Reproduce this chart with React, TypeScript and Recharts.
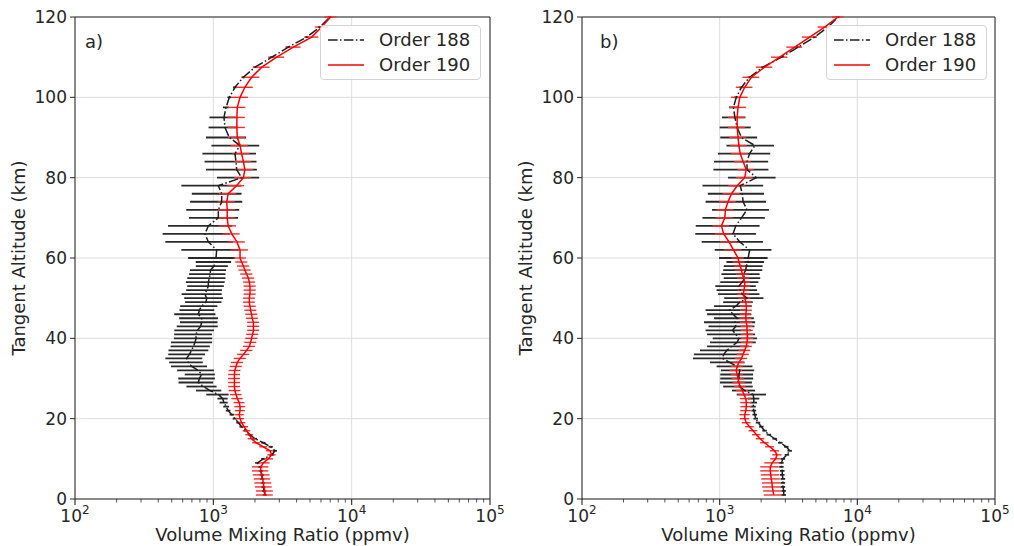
import React from 'react';
import {
  ScatterChart,
  Scatter,
  XAxis,
  YAxis,
  CartesianGrid,
  ErrorBar,
  ReferenceArea,
  Legend,
} from 'recharts';

const FONT = '"DejaVu Sans", Verdana, sans-serif';
const INK = '#262626';

// tangent altitudes (km)
const altitude = [
  1, 2, 3, 4, 5, 6, 7, 8, 9, 10,
  11, 12, 13, 14, 15, 16, 17, 18, 19, 20,
  21, 22, 23, 24, 25, 26, 27, 28, 29, 30,
  31, 32, 33, 34, 35, 36, 37, 38, 39, 40,
  41, 42, 43, 44, 45, 46, 47, 48, 49, 50,
  51, 52, 53, 54, 55, 56, 57, 58, 59, 60,
  62, 64, 66, 68, 70, 72, 74, 76, 78, 80, 82, 84, 86, 88, 90,
  92.5, 95, 97.5, 100, 102.5, 105, 107.5, 110, 112.5, 115, 117.5, 120,
];

// panel a) - Order 188 (ppmv)
const a188 = [
  2360, 2330, 2300, 2280, 2260, 2240, 2210, 2180, 2080, 2300,
  2650, 2790, 2600, 2300, 2000, 1840, 1720, 1600, 1520, 1430,
  1360, 1280, 1240, 1190, 1170, 1090, 946, 847, 779, 792,
  823, 779, 697, 659, 641, 671, 697, 717, 737, 750,
  750, 766, 810, 823, 823, 779, 792, 823, 885, 895,
  870, 895, 920, 920, 936, 946, 956, 1010, 1045, 1045,
  1057, 920, 870, 920, 1087, 1087, 1149, 1149, 1087, 1603, 1475, 1458, 1434, 1558, 1305,
  1214, 1194, 1235, 1305, 1434, 1648, 2000, 2643, 3485, 4730, 5900, 6970,
];
const a188Err = [
  80, 80, 80, 80, 80, 80, 80, 75, 75, 80,
  90, 95, 90, 80, 70, 65, 60, 55, 55, 50,
  50, 50, 60, 80, 100, 200, 196, 208, 219, 234,
  202, 231, 203, 180, 191, 199, 223, 226, 243, 231,
  229, 244, 266, 249, 257, 257, 223, 247, 260, 279,
  280, 259, 272, 287, 288, 278, 279, 263, 299, 388,
  470, 470, 440, 450, 420, 450, 470, 450, 500, 540, 589, 594, 600, 589, 420,
  290, 257, 60, 40, 45, 50, 60, 80, 100, 140, 180, 200,
];

// panel a) - Order 190 (ppmv)
const a190 = [
  2360, 2360, 2320, 2300, 2270, 2240, 2200, 2200, 2300, 2500,
  2640, 2570, 2300, 2040, 1890, 1820, 1740, 1670, 1600, 1560,
  1540, 1560, 1560, 1540, 1490, 1460, 1430, 1420, 1420, 1420,
  1420, 1430, 1460, 1490, 1560, 1650, 1740, 1820, 1860, 1890,
  1920, 1950, 1950, 1950, 1910, 1890, 1860, 1840, 1820, 1820,
  1840, 1840, 1840, 1820, 1790, 1740, 1690, 1650, 1600, 1560,
  1560, 1480, 1360, 1280, 1260, 1260, 1250, 1280, 1470, 1650, 1690, 1650, 1600, 1560, 1490,
  1480, 1480, 1490, 1560, 1690, 1890, 2240, 2870, 3790, 5140, 6070, 7050,
];
const a190Err = [
  330, 330, 320, 320, 310, 310, 300, 300, 250, 200,
  180, 170, 150, 130, 120, 115, 110, 110, 105, 105,
  120, 130, 140, 140, 140, 140, 140, 140, 140, 140,
  140, 140, 145, 150, 155, 165, 175, 180, 185, 190,
  190, 195, 195, 195, 190, 190, 185, 185, 180, 180,
  185, 185, 185, 180, 180, 175, 170, 165, 160, 160,
  220, 210, 190, 180, 180, 180, 175, 180, 200, 230, 240, 230, 225, 220, 210,
  210, 210, 215, 220, 240, 260, 310, 380, 480, 600, 650, 700,
];

// panel b) - Order 188 (ppmv)
const b188 = [
  2920, 2920, 2880, 2880, 2880, 2850, 2850, 2810, 2810, 2880,
  3080, 3230, 3050, 2760, 2510, 2280, 2120, 2010, 1900, 1830,
  1800, 1770, 1750, 1770, 1770, 1750, 1520, 1400, 1360, 1380,
  1380, 1400, 1340, 1180, 1050, 1070, 1130, 1220, 1340, 1380,
  1310, 1240, 1310, 1290, 1340, 1250, 1180, 1310, 1400, 1580,
  1460, 1410, 1380, 1460, 1520, 1490, 1550, 1560, 1610, 1610,
  1650, 1400, 1250, 1310, 1440, 1580, 1480, 1460, 1410, 1850, 1580, 1580, 1650, 1800, 1440,
  1340, 1290, 1260, 1320, 1440, 1650, 2060, 2810, 3710, 4900, 6120, 7240,
];
const b188Err = [
  110, 110, 110, 110, 110, 110, 110, 105, 105, 110,
  115, 120, 115, 105, 95, 85, 80, 75, 70, 70,
  70, 70, 80, 100, 170, 420, 290, 340, 355, 370,
  370, 380, 390, 330, 410, 420, 410, 410, 490, 490,
  500, 450, 480, 520, 430, 440, 390, 400, 340, 500,
  485, 460, 450, 450, 450, 460, 490, 490, 490, 620,
  730, 660, 585, 640, 690, 700, 690, 640, 660, 700, 680, 670, 680, 680, 430,
  340, 250, 90, 50, 50, 55, 65, 85, 110, 150, 180, 200,
];

// panel b) - Order 190 (ppmv)
const b190 = [
  2470, 2440, 2410, 2400, 2370, 2350, 2330, 2330, 2410, 2550,
  2610, 2510, 2310, 2120, 1970, 1850, 1750, 1650, 1560, 1520,
  1520, 1550, 1560, 1560, 1550, 1500, 1460, 1410, 1380, 1360,
  1340, 1320, 1340, 1380, 1440, 1480, 1520, 1560, 1580, 1590,
  1590, 1580, 1580, 1560, 1550, 1550, 1560, 1560, 1550, 1520,
  1490, 1500, 1520, 1520, 1490, 1460, 1440, 1410, 1380, 1360,
  1260, 1170, 1070, 1030, 1090, 1100, 1150, 1220, 1340, 1520, 1560, 1480, 1410, 1380, 1360,
  1340, 1340, 1360, 1400, 1520, 1700, 2120, 2730, 3510, 4510, 5790, 7240,
];
const b190Err = [
  380, 375, 370, 370, 365, 360, 360, 360, 300, 220,
  200, 190, 170, 150, 140, 130, 125, 120, 115, 120,
  130, 140, 145, 150, 150, 150, 145, 140, 140, 135,
  135, 135, 135, 140, 145, 150, 150, 155, 155, 160,
  160, 160, 160, 155, 155, 155, 155, 155, 155, 150,
  150, 150, 150, 150, 150, 145, 145, 140, 140, 140,
  180, 165, 150, 145, 155, 155, 160, 170, 185, 210, 215, 205, 195, 190, 190,
  190, 190, 190, 195, 210, 235, 290, 370, 460, 560, 650, 700,
];

const xMajor = [100, 1000, 10000, 100000];
const xMinor = [
  200, 300, 400, 500, 600, 700, 800, 900,
  2000, 3000, 4000, 5000, 6000, 7000, 8000, 9000,
  20000, 30000, 40000, 50000, 60000, 70000, 80000, 90000,
];
const yTicks = [0, 20, 40, 60, 80, 100, 120];

const seriesNames = ['Order 188', 'Order 190'];
const BLACK = '#1e1e1e';
const RED = '#ff0000';
const DASHDOT = '9.6 2.4 1.5 2.4';

const toPoints = (vals: number[], errs: number[]) =>
  altitude.map((alt, i) => ({ x: vals[i], y: alt, err: errs[i] }));

const XTick = (props: any) => {
  const { x, y, payload } = props;
  const v = payload.value;
  const major = xMajor.includes(v);
  return (
    <g>
      <line x1={x} x2={x} y1={y} y2={y + (major ? 6 : 3.5)} stroke={INK} strokeWidth={major ? 1.1 : 0.8} />
      {major && (
        <text x={x} y={y + 23} textAnchor="middle" fontSize={17} fill={INK} fontFamily={FONT}>
          10<tspan dy={-8} fontSize={12}>{Math.round(Math.log10(v))}</tspan>
        </text>
      )}
    </g>
  );
};

const XLabel = (p: any) => {
  const vb = p.viewBox || { x: 75, y: 499, width: 415, height: 47 };
  return (
    <text x={vb.x + vb.width / 2} y={vb.y + 42} textAnchor="middle" fontSize={18} fill={INK} fontFamily={FONT}>
      Volume Mixing Ratio (ppmv)
    </text>
  );
};

const YLabel = (p: any) => {
  const vb = p.viewBox || { x: 0, y: 17, width: 75, height: 482 };
  const cx = vb.x + 18;
  const cy = vb.y + vb.height / 2;
  return (
    <text
      transform={`translate(${cx},${cy}) rotate(-90)`}
      textAnchor="middle"
      dominantBaseline="central"
      fontSize={18}
      fill={INK}
      fontFamily={FONT}
    >
      Tangent Altitude (km)
    </text>
  );
};

const LegendBox = () => (
  <div
    style={{
      width: 161,
      height: 55,
      boxSizing: 'border-box',
      border: '1px solid #d4d4d4',
      borderRadius: 4,
      background: 'rgba(255,255,255,0.85)',
      fontFamily: FONT,
      fontSize: 18,
      color: INK,
      paddingTop: 1,
    }}
  >
    {seriesNames.map((name, i) => (
      <div key={name} style={{ display: 'flex', alignItems: 'center', height: 25 }}>
        <svg width={36} height={10} style={{ marginLeft: 7, marginRight: 15 }}>
          <line
            x1={0}
            x2={36}
            y1={5}
            y2={5}
            stroke={i === 0 ? BLACK : RED}
            strokeWidth={1.5}
            strokeDasharray={i === 0 ? DASHDOT : undefined}
          />
        </svg>
        <span style={{ lineHeight: '25px' }}>{name}</span>
      </div>
    ))}
  </div>
);

const noDot = () => <g />;

interface PanelProps {
  black: number[];
  blackErr: number[];
  red: number[];
  redErr: number[];
  rightMargin: number;
  legendLeft: number;
}

function Panel({ black, blackErr, red, redErr, rightMargin, legendLeft }: PanelProps) {
  return (
    <ScatterChart width={507} height={546} margin={{ top: 17, right: rightMargin, bottom: 0, left: 0 }}>
      <CartesianGrid stroke="#dcdcdc" strokeWidth={1} verticalValues={xMajor} horizontalValues={yTicks} />
      <XAxis
        type="number"
        dataKey="x"
        scale="log"
        domain={[100, 100000]}
        allowDataOverflow
        ticks={[...xMajor, ...xMinor]}
        interval={0}
        tick={<XTick />}
        tickLine={false}
        tickSize={0}
        tickMargin={0}
        axisLine={false}
        height={47}
        label={XLabel}
      />
      <YAxis
        type="number"
        dataKey="y"
        domain={[0, 120]}
        allowDataOverflow
        ticks={yTicks}
        interval={0}
        width={75}
        tickSize={5}
        tickMargin={3}
        tick={{ fontSize: 17, fill: INK, fontFamily: FONT }}
        tickLine={{ stroke: INK }}
        axisLine={false}
        label={YLabel}
      />
      <ReferenceArea x1={100} x2={100000} y1={0} y2={120} fill="none" stroke={INK} strokeWidth={1} />
      <Scatter
        name={seriesNames[0]}
        data={toPoints(black, blackErr)}
        line={{ stroke: BLACK, strokeWidth: 1.5, strokeDasharray: DASHDOT }}
        lineType="joint"
        shape={noDot}
        isAnimationActive={false}
      >
        <ErrorBar dataKey="err" direction="x" width={0} stroke="#2a2a2a" strokeWidth={1.8} />
      </Scatter>
      <Scatter
        name={seriesNames[1]}
        data={toPoints(red, redErr)}
        line={{ stroke: RED, strokeWidth: 1.5 }}
        lineType="joint"
        shape={noDot}
        isAnimationActive={false}
      >
        <ErrorBar dataKey="err" direction="x" width={0} stroke="#ff2a2a" strokeWidth={1.4} />
      </Scatter>
      <Legend
        layout="horizontal"
        verticalAlign="middle"
        align="center"
        content={<LegendBox />}
        wrapperStyle={{ left: legendLeft, top: 25, width: 161 }}
      />
    </ScatterChart>
  );
}

export default function App() {
  return (
    <div style={{ position: 'absolute', left: 0, top: 0, width: 1014, height: 546, background: '#fff', fontFamily: FONT }}>
      <div style={{ position: 'absolute', left: 0, top: 0 }}>
        <Panel black={a188} blackErr={a188Err} red={a190} redErr={a190Err} rightMargin={17} legendLeft={320} />
      </div>
      <div style={{ position: 'absolute', left: 507, top: 0 }}>
        <Panel black={b188} blackErr={b188Err} red={b190} redErr={b190Err} rightMargin={19} legendLeft={319} />
      </div>
      <div style={{ position: 'absolute', left: 85, top: 31, fontSize: 18, color: INK, lineHeight: '22px' }}>a)</div>
      <div style={{ position: 'absolute', left: 600, top: 31, fontSize: 18, color: INK, lineHeight: '22px' }}>b)</div>
    </div>
  );
}
